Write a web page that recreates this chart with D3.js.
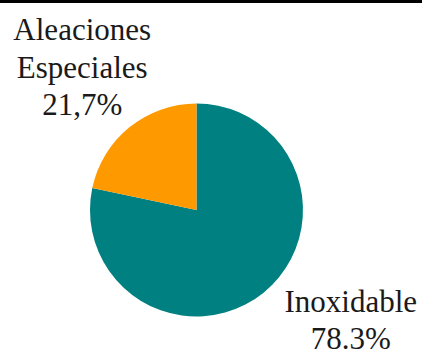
<!DOCTYPE html>
<html>
<head>
<meta charset="utf-8">
<script src="https://cdn.jsdelivr.net/npm/d3@7"></script>
<style>
	body { margin: 0; background: #fff; }
	svg { display: block; }
</style>
</head>
<body>
<div id="chart"></div>
<script>
// data
var categories = ["Inoxidable", "Aleaciones Especiales"];
var shares = [78.3, 21.7];
var shareLabels = ["78.3%", "21,7%"];
var labelLines = [["Inoxidable"], ["Aleaciones", "Especiales"]];

var width = 422,
	height = 352;

var svg = d3.select("#chart")
	.append("svg")
		.attr("width", width)
		.attr("height", height);

// black rule across the top
svg.append("rect")
	.attr("x", 0)
	.attr("y", 0)
	.attr("width", width)
	.attr("height", 3)
	.attr("fill", "#000");

var cx = 196.5, cy = 210, radius = 106.5;

var color = d3.scaleOrdinal()
	.domain(categories)
	.range(["#008080", "#ff9900"]);

var pie = d3.pie()
	.sort(null)
	.value(function(d) { return d.value; });

var arcs = pie(categories.map(function(c, i) {
	return {name: c, value: shares[i], pct: shareLabels[i], lines: labelLines[i]};
}));

var arc = d3.arc().innerRadius(0).outerRadius(radius);
var labelArc = d3.arc().innerRadius(175).outerRadius(175);

var g = svg.append("g")
	.attr("transform", "translate(" + cx + "," + cy + ")");

g.selectAll("path")
	.data(arcs)
	.enter()
	.append("path")
	.attr("d", arc)
	.attr("fill", function(d) { return color(d.data.name); });

// nudge each label block off the radial line, like the original
var nudge = {"Inoxidable": [44, -34], "Aleaciones Especiales": [-4, -34]};
var lineH = 37.5;

var labels = g.selectAll("text.lbl")
	.data(arcs)
	.enter()
	.append("text")
	.attr("class", "lbl")
	.attr("text-anchor", "middle")
	.style("font-family", "'Liberation Serif', 'Times New Roman', serif")
	.style("font-size", "31px")
	.attr("fill", "#1a1a1a")
	.attr("transform", function(d) {
		var c = labelArc.centroid(d);
		var n = nudge[d.data.name];
		return "translate(" + (c[0] + n[0]) + "," + (c[1] + n[1]) + ")";
	});

labels.each(function(d) {
	var t = d3.select(this);
	var lines = d.data.lines.concat([d.data.pct]);
	lines.forEach(function(s, i) {
		t.append("tspan")
			.attr("x", 0)
			.attr("y", i * lineH)
			.text(s);
	});
});
</script>
</body>
</html>
